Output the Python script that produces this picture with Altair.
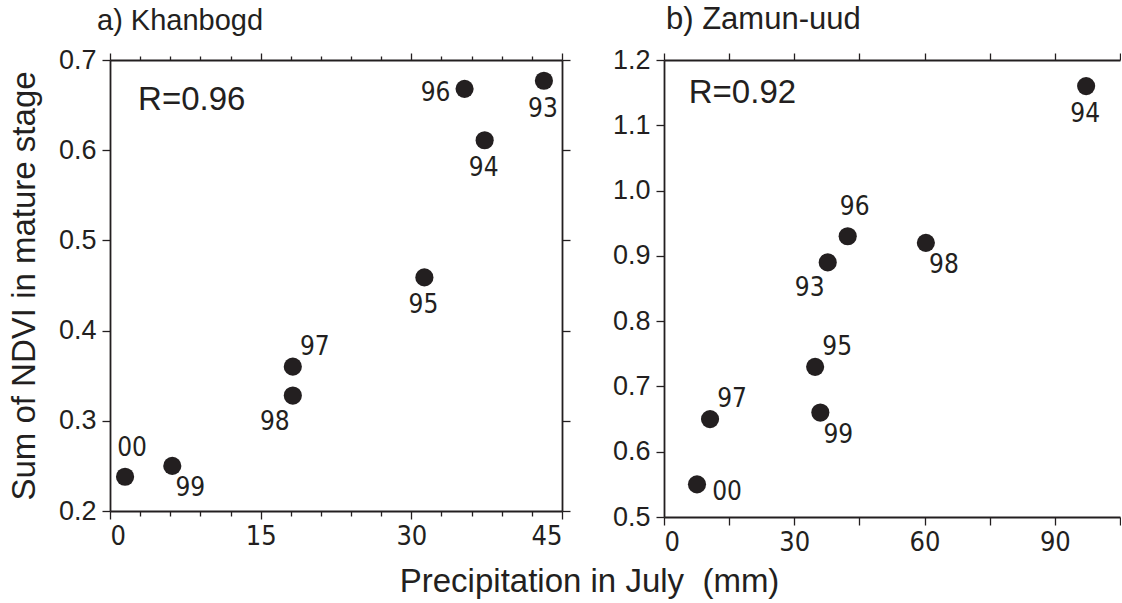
import altair as alt
import pandas as pd

# ---- data -------------------------------------------------------------
# a) Khanbogd: July precipitation (mm) vs. summed NDVI in the mature stage
kh_year = ["93", "94", "95", "96", "97", "98", "99", "00"]
kh_precip = [43.2, 37.3, 31.3, 35.3, 18.2, 18.2, 6.2, 1.5]
kh_ndvi = [0.677, 0.611, 0.459, 0.668, 0.360, 0.328, 0.250, 0.238]
kh_place = ["S", "S", "S", "W", "NE", "SW", "SE", "N"]

# b) Zamun-uud
zu_year = ["93", "94", "95", "96", "97", "98", "99", "00"]
zu_precip = [37.7, 97.2, 34.8, 42.3, 10.6, 60.3, 36.0, 7.6]
zu_ndvi = [0.89, 1.16, 0.73, 0.93, 0.65, 0.92, 0.66, 0.55]
zu_place = ["SW", "S", "NE", "N", "NE", "SE", "SE", "E"]

kh_r = "R=0.96"
zu_r = "R=0.92"

# ---- styling ----------------------------------------------------------
INK = "#231f20"
SANS = "Liberation Sans, Arial, sans-serif"
NARROW = "Liberation Sans Narrow, DejaVu Sans Condensed, Roboto Condensed, Liberation Sans, sans-serif"

# pixel offsets of the year label relative to its dot
OFFSETS = {
    "N": (7, -29),
    "NE": (22, -20),
    "E": (30, 8),
    "SE": (18, 22),
    "S": (-1, 28),
    "SW": (-18, 26),
    "W": (-29, 4),
}


def make_panel(years, precip, ndvi, place, xdom, xstep, xmajor, xlabel_step,
               ydom, yvals, width, height, title, title_dx, title_size,
               r_text, r_pos, ytitle=None, right_axis=True):
    df = pd.DataFrame({"year": years, "precip": precip, "ndvi": ndvi, "place": place})
    xvals = list(range(int(xdom[0]), int(xdom[1]) + 1, xstep))
    xscale = alt.Scale(domain=xdom, nice=False, zero=False)
    yscale = alt.Scale(domain=ydom, nice=False, zero=False)
    major_test = f"datum.value % {xmajor} === 0"

    bottom_axis = alt.Axis(
        orient="bottom", values=xvals, title=None,
        labelExpr=f"datum.value % {xlabel_step} === 0 ? datum.label : ''",
        labelFont=NARROW, labelFontSize=27, labelPadding=4,
        tickSize={"condition": {"test": major_test, "value": 8}, "value": 5},
    )
    top_axis = alt.Axis(
        orient="top", values=xvals, title=None, labels=False,
        tickSize={"condition": {"test": major_test, "value": 7}, "value": 4},
    )
    left_axis = alt.Axis(
        orient="left", values=yvals, format=".1f", tickSize=8, labelPadding=6,
        title=ytitle if ytitle else None,
        titleFont=SANS, titleFontSize=33, titleFontWeight="normal",
        titleColor=INK, titlePadding=17,
    )
    right_axis_def = alt.Axis(orient="right", values=yvals, labels=False, tickSize=8, title=None)

    base = alt.Chart(df)
    dots = base.mark_circle(size=330, opacity=1, color=INK).encode(
        x=alt.X("precip:Q", scale=xscale, axis=bottom_axis),
        y=alt.Y("ndvi:Q", scale=yscale, axis=left_axis),
    )
    frame = base.mark_point(opacity=0).encode(
        x=alt.X("precip:Q", scale=xscale, axis=top_axis),
        y=alt.Y("ndvi:Q", scale=yscale, axis=right_axis_def if right_axis else None),
    )
    layers = [dots, frame]
    for key, (dx, dy) in OFFSETS.items():
        layers.append(
            base.transform_filter(alt.datum.place == key).mark_text(
                font=NARROW, fontSize=26, color=INK, align="center",
                baseline="middle", dx=dx, dy=dy,
            ).encode(
                x=alt.X("precip:Q", scale=xscale, axis=None),
                y=alt.Y("ndvi:Q", scale=yscale, axis=None),
                text="year:N",
            )
        )
    rdf = pd.DataFrame({"x": [r_pos[0]], "y": [r_pos[1]], "t": [r_text]})
    layers.append(
        alt.Chart(rdf).mark_text(
            font=SANS, fontSize=33, color=INK, align="left", baseline="middle"
        ).encode(
            x=alt.X("x:Q", scale=xscale, axis=None),
            y=alt.Y("y:Q", scale=yscale, axis=None),
            text="t:N",
        )
    )
    return alt.layer(*layers).resolve_axis(x="independent", y="independent").properties(
        width=width, height=height,
        title=alt.TitleParams(
            text=title, anchor="start", frame="group", dx=title_dx,
            font=SANS, fontSize=title_size, fontWeight="normal", color=INK, offset=10,
        ),
    )


left = make_panel(
    kh_year, kh_precip, kh_ndvi, kh_place,
    xdom=[0, 45], xstep=3, xmajor=15, xlabel_step=15,
    ydom=[0.2, 0.7], yvals=[0.2, 0.3, 0.4, 0.5, 0.6, 0.7],
    width=452, height=451, title="a) Khanbogd", title_dx=-13, title_size=29,
    r_text=kh_r, r_pos=(2.8, 0.656),
    ytitle="Sum of NDVI in mature stage",
)
right = make_panel(
    zu_year, zu_precip, zu_ndvi, zu_place,
    xdom=[0, 105], xstep=15, xmajor=15, xlabel_step=30,
    ydom=[0.5, 1.2], yvals=[0.5, 0.6, 0.7, 0.8, 0.9, 1.0, 1.1, 1.2],
    width=456, height=457, title="b) Zamun-uud", title_dx=2, title_size=31,
    r_text=zu_r, r_pos=(5.7, 1.149),
    right_axis=False,
)

chart = alt.hconcat(left, right, spacing=41).properties(
    padding={"left": 8, "top": 4, "right": 0, "bottom": 0},
    background="white",
    title=alt.TitleParams(
        text="Precipitation in July\u00a0 (mm)", orient="bottom", anchor="middle",
        font=SANS, fontSize=33, fontWeight="normal", color=INK, offset=11, dx=25,
    ),
).configure_view(stroke=None).configure_axis(
    grid=False, domainColor=INK, domainWidth=1.8, tickColor=INK, tickWidth=1.3,
    labelFont=SANS, labelFontSize=27, labelColor=INK,
)

chart.save("out.html", embed_options={"renderer": "svg", "actions": False})
